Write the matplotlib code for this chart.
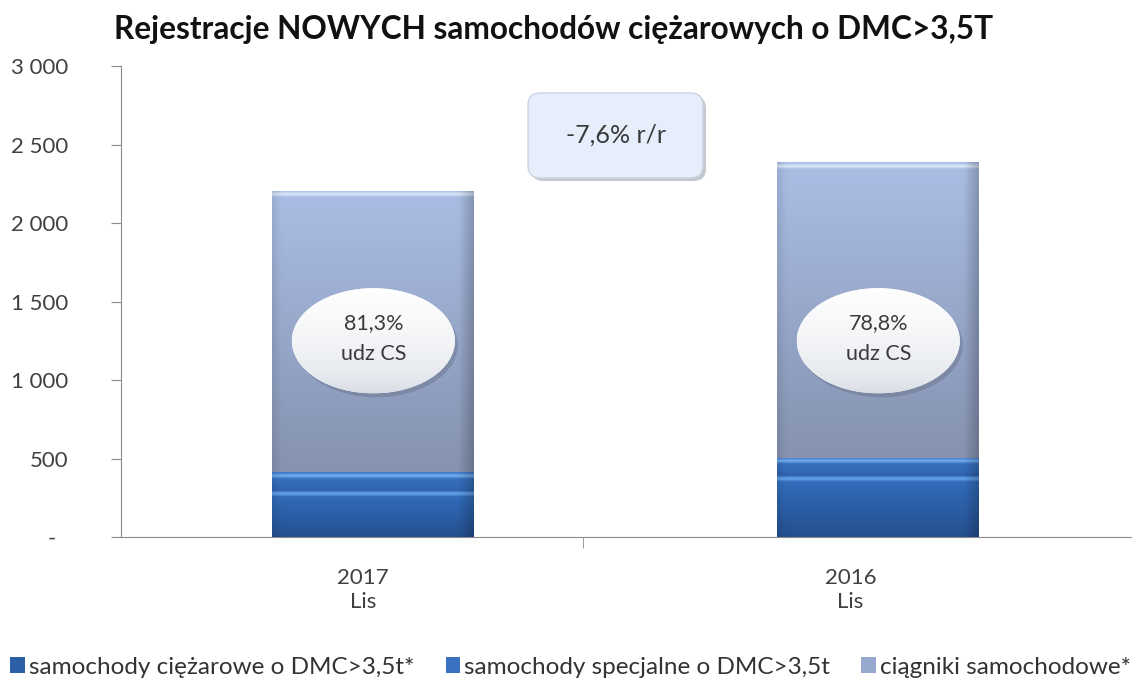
import numpy as np
import matplotlib
matplotlib.use('Agg')
import matplotlib.pyplot as plt
from matplotlib.patches import Ellipse, FancyBboxPatch
from matplotlib.colors import to_rgb

plt.rcParams['font.family'] = ['Lato', 'DejaVu Sans']

# dane
lata = ['2017\nLis', '2016\nLis']
ciezarowe = [295, 390]      # samochody ciężarowe o DMC>3,5t
specjalne = [117, 116]      # samochody specjalne o DMC>3,5t
ciagniki = [1793, 1880]     # ciągniki samochodowe
udzial_cs = ['81,3%\nudz CS', '78,8%\nudz CS']
zmiana = '-7,6% r/r'
nazwy = ['samochody ciężarowe o DMC>3,5t*', 'samochody specjalne o DMC>3,5t',
         'ciągniki samochodowe*']
yticks = [0, 500, 1000, 1500, 2000, 2500, 3000]
ytick_labels = ['-  ', '500', '1 000', '1 500', '2 000', '2 500', '3 000']

fig = plt.figure(figsize=(11.41, 6.90), dpi=100)
ax = fig.add_axes([0.106, 0.2217, 0.885, 0.6826])
ax.set_xlim(-0.5, 1.5)
ax.set_ylim(0, 3000)
px = 3000 / (ax.get_position().height * fig.get_figheight() * fig.dpi)  # jednostek na piksel

x = np.arange(len(lata))
w = 0.40
b1 = ax.bar(x, ciezarowe, w, color='#2c5fa6', zorder=2)
b2 = ax.bar(x, specjalne, w, bottom=ciezarowe, color='#3a72c2', zorder=2)
b3 = ax.bar(x, ciagniki, w, bottom=np.add(ciezarowe, specjalne), color='#98a9d0', zorder=2)


def shade(patch, top, bottom, shine=None, n=256):
    x0, y0 = patch.get_x(), patch.get_y()
    pw, ph = patch.get_width(), patch.get_height()
    t = np.linspace(0, 1, n)
    c0, c1 = np.array(to_rgb(bottom)), np.array(to_rgb(top))
    col = c0 + (c1 - c0) * t[:, None]
    img = np.repeat(col[:, None, :], 64, axis=1)
    if shine is not None:
        d = (1 - t) * ph / px
        m = np.clip(1 - np.abs(d - 3.5) / 3.0, 0, 1)
        img = img * (1 - m[:, None, None]) + np.array(to_rgb(shine)) * m[:, None, None]
    s = np.linspace(0, 1, 64)
    edge = 1 - 0.2 * np.clip((s - 0.93) / 0.07, 0, 1) - 0.08 * np.clip((0.04 - s) / 0.04, 0, 1)
    img = np.clip(img * edge[None, :, None], 0, 1)
    im = ax.imshow(img, extent=[x0, x0 + pw, y0, y0 + ph], origin='lower',
                   aspect='auto', zorder=3, interpolation='bilinear')
    im.set_clip_path(patch)


for p in b1:
    shade(p, '#3470bf', '#244f8f', '#6aa6ee')
for p in b2:
    shade(p, '#3d78c8', '#2f63ae', '#74b0f2')
for p in b3:
    shade(p, '#aabee5', '#8592b0', '#dcebfa')

# dymki z udziałem CS
for xi, txt in zip(x, udzial_cs):
    yc = 1250
    ew, eh = 0.323, 670
    sh = Ellipse((xi + 0.006, yc - 25), ew, eh, facecolor='#5a6478', alpha=0.35,
                 edgecolor='none', zorder=4)
    ax.add_patch(sh)
    el = Ellipse((xi, yc), ew, eh, facecolor='#f3f5f8', edgecolor='none', zorder=5)
    ax.add_patch(el)
    t = np.linspace(0, 1, 128)
    c0, c1 = np.array(to_rgb('#d5dae2')), np.array(to_rgb('#ffffff'))
    g = c0 + (c1 - c0) * np.sqrt(t)[:, None]
    img = np.repeat(g[:, None, :], 8, axis=1)
    im = ax.imshow(img, extent=[xi - ew / 2, xi + ew / 2, yc - eh / 2, yc + eh / 2],
                   origin='lower', aspect='auto', zorder=5, interpolation='bilinear')
    im.set_clip_path(el)
    ax.text(xi, yc + 15, txt, ha='center', va='center', fontsize=15.5, color='#3a3a3a',
            linespacing=1.7, zorder=6)

ax.set_xlim(-0.5, 1.5)
ax.set_ylim(0, 3000)

# osie
for s in ['top', 'right']:
    ax.spines[s].set_visible(False)
for s in ['left', 'bottom']:
    ax.spines[s].set_color('#8c8c8c')
ax.set_yticks(yticks, ytick_labels)
ax.tick_params(axis='y', length=7, color='#8c8c8c', pad=31, labelsize=16, labelcolor='#404040')
ax.set_xticks([-0.02, 0.945], lata)
ax.tick_params(axis='x', length=0, pad=22, labelsize=16, labelcolor='#404040')
for lab in ax.get_xticklabels():
    lab.set_linespacing(1.3)
ax.set_xticks([0.415], minor=True)
ax.tick_params(axis='x', which='minor', length=8, color='#8c8c8c')

# ramka ze zmianą r/r
fx, fy, fw, fh = 528 / 1141, 1 - 178 / 690, 175 / 1141, 85 / 690
asp = 1141 / 690
shadow = FancyBboxPatch((fx + 3 / 1141, fy - 3 / 690), fw, fh,
                        boxstyle='round,pad=0,rounding_size=0.011', mutation_aspect=asp,
                        transform=fig.transFigure, facecolor='#7d8794', alpha=0.45,
                        edgecolor='none', zorder=5)
box = FancyBboxPatch((fx, fy), fw, fh, boxstyle='round,pad=0,rounding_size=0.011',
                     mutation_aspect=asp, transform=fig.transFigure, facecolor='#e5eefa',
                     edgecolor='#c9d3e0', linewidth=1, zorder=6)
fig.patches.extend([shadow, box])
fig.text(fx + fw / 2, fy + fh / 2, zmiana, ha='center', va='center', fontsize=18,
         color='#3a3a3a', zorder=7)

fig.text(554 / 1141, 1 - 30 / 690, 'Rejestracje NOWYCH samochodów ciężarowych o DMC>3,5T',
         ha='center', va='center', fontsize=22.8, fontweight='bold', color='#111111')

fig.legend([b1, b2, b3], nazwy, loc='center', bbox_to_anchor=(0.5, 1 - 667 / 690), ncol=3,
           frameon=False, fontsize=17.5, handlelength=0.6, handleheight=0.6,
           handletextpad=0.15, columnspacing=1.3, labelcolor='#333333')

fig.savefig('out.png', dpi=100)
